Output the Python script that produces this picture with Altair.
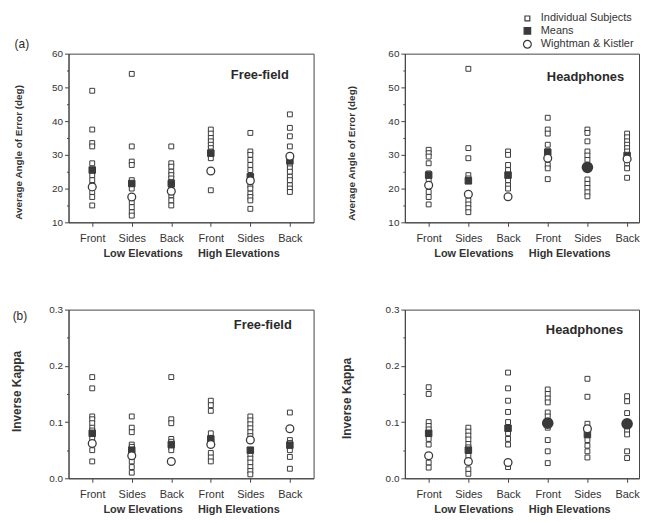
import altair as alt
import pandas as pd

categories = ["Front", "Sides", "Back", "Front", "Sides", "Back"]
kinds = ["Individual Subjects", "Means", "Wightman & Kistler"]

# (a) Average angle of error (deg), free-field
ff_angle_subjects = [
    [49, 37.5, 33.5, 32.5, 27.5, 24, 22.5, 21, 19, 17.5, 15],
    [54, 32.5, 28, 27, 22.5, 20, 16, 14.5, 13, 12],
    [32.5, 27.5, 26.5, 25, 24, 23, 22, 20, 18, 16.5, 15],
    [37.5, 36.3, 35, 34, 33, 32, 31, 29, 19.5],
    [36.5, 31, 30, 28.5, 27, 25.5, 21, 20, 18.5, 17.5, 16.5, 14],
    [42, 38, 35.5, 32.5, 27, 26, 25, 23.5, 22.5, 21, 20, 19],
]
ff_angle_means = [25.5, 21.5, 21.5, 30.5, 23.5, 28.2]
ff_angle_wk = [20.5, 17.5, 19.2, 25.2, 22.3, 29.6]

# (a) Average angle of error (deg), headphones
hp_angle_subjects = [
    [31.5, 30.5, 29.5, 27.5, 24.5, 22.5, 19, 17.5, 15.3],
    [55.5, 32, 29, 24, 23, 16.5, 15.3, 14.2, 13],
    [31, 30, 27, 25.5, 22.5, 21, 20],
    [41, 37.5, 36.3, 33, 31, 27, 26, 22.8],
    [37.5, 36.5, 34, 31, 29.8, 28.5, 22.7, 21.4, 20.2, 18.9, 17.7],
    [36.3, 35.2, 34, 33, 32, 31, 27.5, 26, 23.2],
]
hp_angle_means = [24, 22.3, 24, 30.8, 26.3, 29.8]
hp_angle_wk = [21, 18.3, 17.6, 29, 26.3, 28.8]

# (b) Inverse kappa, free-field
ff_kappa_subjects = [
    [0.18, 0.16, 0.11, 0.105, 0.098, 0.09, 0.085, 0.07, 0.05, 0.03],
    [0.11, 0.09, 0.082, 0.06, 0.056, 0.03, 0.02, 0.01],
    [0.18, 0.105, 0.098, 0.07, 0.065, 0.055, 0.05],
    [0.138, 0.13, 0.12, 0.08, 0.072, 0.045, 0.037, 0.03],
    [0.11, 0.103, 0.096, 0.089, 0.082, 0.075, 0.042, 0.035, 0.028, 0.02, 0.013, 0.007],
    [0.117, 0.068, 0.063, 0.05, 0.038, 0.017],
]
ff_kappa_means = [0.08, 0.05, 0.06, 0.07, 0.05, 0.059]
ff_kappa_wk = [0.062, 0.04, 0.03, 0.06, 0.068, 0.088]

# (b) Inverse kappa, headphones
hp_kappa_subjects = [
    [0.162, 0.15, 0.1, 0.093, 0.087, 0.07, 0.06, 0.028, 0.019],
    [0.09, 0.083, 0.076, 0.069, 0.061, 0.055, 0.04, 0.016, 0.008],
    [0.188, 0.16, 0.138, 0.118, 0.1, 0.08, 0.07, 0.06, 0.02],
    [0.158, 0.15, 0.142, 0.135, 0.117, 0.11, 0.09, 0.068, 0.048, 0.027],
    [0.177, 0.145, 0.097, 0.068, 0.058, 0.048, 0.037],
    [0.146, 0.137, 0.116, 0.086, 0.078, 0.048, 0.036],
]
hp_kappa_means = [0.08, 0.05, 0.089, 0.098, 0.078, 0.097]
hp_kappa_wk = [0.04, 0.03, 0.028, 0.098, 0.088, 0.097]

angle_ticks = [10, 15, 20, 25, 30, 35, 40, 45, 50, 55, 60]
kappa_ticks = [0.0, 0.05, 0.1, 0.15, 0.2, 0.25, 0.3]

FONT = "Liberation Sans"
DARK = "#3a3a3a"
NB = "\u00a0"


def make_df(subjects, means, wk):
    rows = []
    for i, vals in enumerate(subjects):
        for v in vals:
            rows.append({"cat": i + 1, "value": v, "kind": kinds[0], "coincide": False})
    for i, v in enumerate(means):
        rows.append({"cat": i + 1, "value": v, "kind": kinds[1], "coincide": False})
    for i, v in enumerate(wk):
        rows.append({"cat": i + 1, "value": v, "kind": kinds[2], "coincide": bool(v == means[i])})
    return pd.DataFrame(rows)


def leg():
    return alt.Legend(title=None, orient="none", legendX=457, legendY=-41)


def panel(df, ydom, yvals, label_expr, minor_test, ytitle, ytitle_size, ytitle_y,
          ytitle_pad, xmax, width, name, name_x, name_y, letter=None, letter_xy=(0, 0)):
    xaxis = alt.Axis(
        values=[1, 2, 3, 4, 5, 6],
        labelExpr="['Front','Sides','Back','Front','Sides','Back'][datum.value - 1]",
        title="Low Elevations" + NB * 5 + "High Elevations",
        tickSize=4, labelFontSize=11, labelPadding=6, labelAngle=0,
        titleFontSize=11, titleFontWeight="bold", titlePadding=4, grid=False,
    )
    yaxis = alt.Axis(
        values=yvals, labelExpr=label_expr,
        tickSize={"condition": {"test": minor_test, "value": 2}, "value": 4},
        labelFontSize=10, labelPadding=2, title=ytitle, titleFontSize=ytitle_size,
        titleFontWeight="bold", titleY=ytitle_y, titlePadding=ytitle_pad, grid=False,
    )
    base = alt.Chart(df).encode(
        x=alt.X("cat:Q", scale=alt.Scale(domain=[0.4, xmax], nice=False, zero=False), axis=xaxis),
        y=alt.Y("value:Q", scale=alt.Scale(domain=ydom, nice=False, zero=False), axis=yaxis),
    )
    enc = dict(
        shape=alt.Shape("kind:N", scale=alt.Scale(domain=kinds, range=["square", "square", "circle"]), legend=leg()),
        fill=alt.Fill("kind:N", scale=alt.Scale(domain=kinds, range=["#ffffff", DARK, "#ffffff"]), legend=leg()),
        stroke=alt.Stroke("kind:N", scale=alt.Scale(domain=kinds, range=[DARK, DARK, DARK]), legend=leg()),
        size=alt.Size("kind:N", scale=alt.Scale(domain=kinds, range=[24, 62, 100]), legend=leg()),
    )
    layers = []
    for k, sw in zip(kinds, [1, 1, 1.3]):
        layers.append(
            base.transform_filter(alt.datum.kind == k)
            .mark_point(filled=True, strokeWidth=sw, opacity=1)
            .encode(**enc)
        )
    layers.append(
        base.transform_filter("datum.kind == 'Wightman & Kistler' && datum.coincide")
        .mark_point(filled=True, shape="circle", size=95, fill=DARK, stroke=DARK, opacity=1)
    )
    layers.append(
        alt.Chart(pd.DataFrame({"t": [name]}))
        .mark_text(font=FONT, fontSize=13, fontWeight="bold", align="right", baseline="middle", color="#2a2a2a")
        .encode(text="t:N", x=alt.value(name_x), y=alt.value(name_y))
    )
    if letter:
        layers.append(
            alt.Chart(pd.DataFrame({"t": [letter]}))
            .mark_text(font=FONT, fontSize=12, align="center", baseline="middle", color="#2a2a2a")
            .encode(text="t:N", x=alt.value(letter_xy[0]), y=alt.value(letter_xy[1]))
        )
    return alt.layer(*layers).properties(width=width, height=170)


angle_label = "datum.value % 10 == 0 ? datum.label : ''"
angle_minor = "datum.value % 10 != 0"
kappa_label = "round(datum.value * 100) % 10 == 0 ? format(datum.value, '.1f') : ''"
kappa_minor = "round(datum.value * 100) % 10 != 0"

p1 = panel(make_df(ff_angle_subjects, ff_angle_means, ff_angle_wk), [10, 60], angle_ticks,
           angle_label, angle_minor, "Average Angle of Error (deg)", 10, 99, 28.5,
           6.6, 247, "Free-field", 222, 22, "(a)", (-47, -10))
p2 = panel(make_df(hp_angle_subjects, hp_angle_means, hp_angle_wk), [10, 60], angle_ticks,
           angle_label, angle_minor, "Average Angle of Error (deg)", 10, 100, 32,
           6.3, 236, "Headphones", 221, 24)
p3 = panel(make_df(ff_kappa_subjects, ff_kappa_means, ff_kappa_wk), [0, 0.3], kappa_ticks,
           kappa_label, kappa_minor, "Inverse Kappa", 12, 82, 25,
           6.6, 247, "Free-field", 225, 16, "(b)", (-49, 6))
p4 = panel(make_df(hp_kappa_subjects, hp_kappa_means, hp_kappa_wk), [0, 0.3], kappa_ticks,
           kappa_label, kappa_minor, "Inverse Kappa", 12, 89, 32,
           6.3, 236, "Headphones", 220, 21)

chart = (
    alt.concat(p1, p2, p3, p4, columns=2, spacing={"row": 45, "column": 25})
    .resolve_scale(shape="shared", fill="shared", size="shared", stroke="shared")
    .properties(padding={"left": 2, "top": 3, "right": 0, "bottom": 0}, background="#ffffff")
    .configure_view(stroke="#444444", strokeWidth=1)
    .configure_axis(domainColor="#444444", tickColor="#444444", labelColor="#333333",
                    titleColor="#333333", labelFont=FONT, titleFont=FONT, domainWidth=1)
    .configure_legend(labelFont=FONT, labelFontSize=11, labelColor="#333333",
                      symbolStrokeWidth=1.2, rowPadding=0.5, labelOffset=8)
)

chart.save("out.html", embed_options={"renderer": "svg", "actions": False})
